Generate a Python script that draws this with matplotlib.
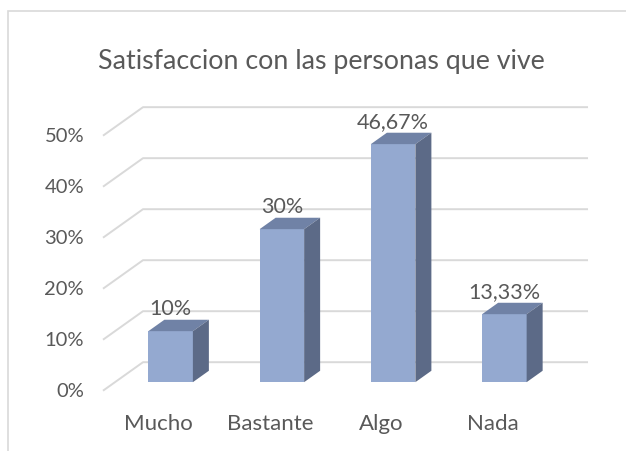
import matplotlib.pyplot as plt
from matplotlib.patches import Polygon, Rectangle

categories = ["Mucho", "Bastante", "Algo", "Nada"]
values = [10, 30, 46.67, 13.33]
value_labels = ["10%", "30%", "46,67%", "13,33%"]
ticks = [0, 10, 20, 30, 40, 50]
tick_labels = ["0%", "10%", "20%", "30%", "40%", "50%"]
title = "Satisfaccion con las personas que vive"

plt.rcParams['font.family'] = ['Lato', 'DejaVu Sans']
txt = '#595959'
grid_c = '#d9d9d9'
front_c = '#94a9d0'
top_c = '#7082a6'
side_c = '#5c6a87'

fig = plt.figure(figsize=(6.26, 4.52), dpi=100)
ax = fig.add_axes([0, 0, 1, 1])
ax.set_xlim(-1.4258, 4.201)
ax.set_ylim(-11.82, 76.8)
ax.axis('off')

# chart frame
fig.patches.append(Rectangle((8 / 626, -0.1), 1.2, 1 - 12 / 452 + 0.1,
                             transform=fig.transFigure, fill=False,
                             edgecolor=grid_c, linewidth=1.2))

# 3d depth offsets (category units, percent units)
DX, DY = 0.3596, 5.59
f0, f1 = 0.3, 0.7
w = 0.4
n = len(categories)

# back wall gridlines + floor diagonals
for g, tl in zip(ticks, tick_labels):
    ax.plot([-0.5, -0.5 + DX, n - 0.5 + DX], [g, g + DY, g + DY],
            color=grid_c, lw=1.4, solid_capstyle='butt')
    ax.text(-0.5 - 0.17, g, tl, ha='right', va='center',
            fontsize=14.5, color=txt)

# bars
xs = [i - w / 2 + f0 * DX for i in range(n)]
ax.bar(xs, values, width=w, bottom=f0 * DY, align='edge', color=front_c, zorder=3)
sdx, sdy = (f1 - f0) * DX, (f1 - f0) * DY
for x0, v, lab in zip(xs, values, value_labels):
    y0 = f0 * DY
    ax.add_patch(Polygon([(x0, y0 + v), (x0 + w, y0 + v),
                          (x0 + w + sdx, y0 + v + sdy), (x0 + sdx, y0 + v + sdy)],
                         closed=True, facecolor=top_c, edgecolor='none', zorder=3))
    ax.add_patch(Polygon([(x0 + w, y0), (x0 + w, y0 + v),
                          (x0 + w + sdx, y0 + v + sdy), (x0 + w + sdx, y0 + sdy)],
                         closed=True, facecolor=side_c, edgecolor='none', zorder=3))
    ax.annotate(lab, (x0 + w / 2, y0 + v + sdy), xytext=(0, 1),
                textcoords='offset points', ha='center', va='bottom',
                fontsize=15.5, color=txt, zorder=4)

for i, c in enumerate(categories):
    ax.text(i, -6.3, c, ha='center', va='center', fontsize=16, color=txt)

fig.text(0.513, 1 - 61 / 452, title, ha='center', va='center',
         fontsize=19.3, color=txt)

fig.savefig("out.png", dpi=100)
